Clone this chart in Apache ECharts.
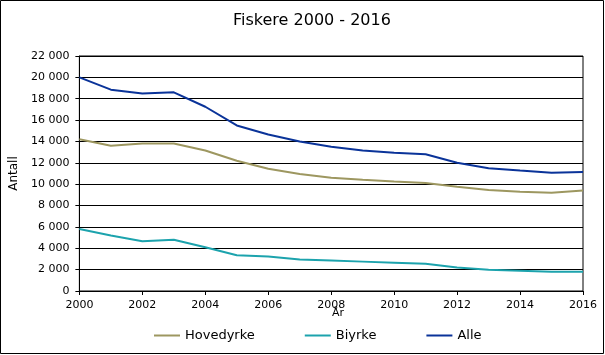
<!DOCTYPE html>
<html><head><meta charset="utf-8">
<script src="https://cdn.jsdelivr.net/npm/echarts@6/dist/echarts.min.js"></script>
<style>html,body{margin:0;padding:0;background:#fff}#c{width:605px;height:355px}</style>
</head><body><div id="c"></div>
<script>
const years = [2000,2001,2002,2003,2004,2005,2006,2007,2008,2009,2010,2011,2012,2013,2014,2015,2016];
const hovedyrke = [14200,13600,13800,13800,13150,12200,11450,10950,10600,10420,10250,10100,9750,9450,9300,9200,9400];
const biyrke = [5800,5200,4650,4800,4100,3350,3230,2950,2850,2750,2650,2550,2200,2000,1900,1800,1800];
const alle = [20000,18850,18500,18600,17250,15500,14650,14000,13500,13150,12950,12800,12000,11500,11270,11080,11150];
const seriesNames = ['Hovedyrke','Biyrke','Alle'];
const colors = ['#9d9760','#1ca3ad','#0a3399'];
const pair = arr => years.map((y,i)=>[y,arr[i]]);
const fontFam = 'DejaVu Sans, Verdana, sans-serif';
const chart = echarts.init(document.getElementById('c'));
chart.setOption({
  animation:false,
  backgroundColor:'#fff',
  title:{text:'Fiskere 2000 - 2016',left:233,top:13,textStyle:{fontFamily:fontFam,fontSize:16,fontWeight:'normal',color:'#000'},padding:0},
  graphic:[
    {type:'rect',shape:{x:0.5,y:0.5,width:603,height:353},style:{fill:null,stroke:'#000',lineWidth:1},silent:true},
    {type:'text',left:332,top:308,style:{text:'År',font:'11px '+fontFam,fill:'#000'}}
  ],
  legend:{left:154,top:329,padding:0,icon:'rect',itemWidth:26,itemHeight:2,itemGap:50,
    textStyle:{fontFamily:fontFam,fontSize:13,color:'#000'},
    data:seriesNames},
  grid:{left:76,right:22,top:56,bottom:64,show:true,borderColor:'#000',borderWidth:1},
  xAxis:{type:'value',min:2000,max:2016,interval:2,
    axisLine:{show:true,lineStyle:{color:'#000',width:1}},
    axisTick:{show:true,length:4,lineStyle:{color:'#000'}},
    axisLabel:{color:'#000',fontFamily:fontFam,fontSize:11,margin:9,formatter:v=>String(v)},
    splitLine:{show:false}},
  yAxis:{type:'value',min:0,max:22000,interval:2000,
    name:'Antall',nameLocation:'middle',nameGap:56,nameRotate:90,
    nameTextStyle:{fontFamily:fontFam,fontSize:12,color:'#000'},
    axisLine:{show:true,lineStyle:{color:'#000',width:1}},
    axisTick:{show:true,length:4,lineStyle:{color:'#000'}},
    axisLabel:{color:'#000',fontFamily:fontFam,fontSize:11,margin:10,
      formatter:v=>v>=1000?String(Math.floor(v/1000))+' '+String(v%1000).padStart(3,'0'):String(v)},
    splitLine:{show:true,lineStyle:{color:'#000',width:1}}},
  series:[
    {name:seriesNames[0],type:'line',data:pair(hovedyrke),symbol:'none',lineStyle:{color:colors[0],width:2},itemStyle:{color:colors[0]}},
    {name:seriesNames[1],type:'line',data:pair(biyrke),symbol:'none',lineStyle:{color:colors[1],width:2},itemStyle:{color:colors[1]}},
    {name:seriesNames[2],type:'line',data:pair(alle),symbol:'none',lineStyle:{color:colors[2],width:2},itemStyle:{color:colors[2]}}
  ]
});
</script></body></html>
